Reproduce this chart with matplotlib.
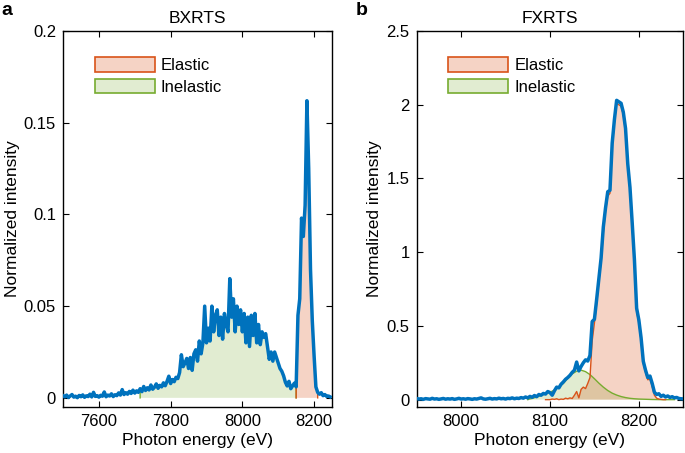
import numpy as np
import matplotlib
matplotlib.use("Agg")
import matplotlib.pyplot as plt
from matplotlib.patches import Patch
from matplotlib.ticker import FormatStrFormatter

plt.rcParams["font.family"] = ["Liberation Sans", "DejaVu Sans"]

BLUE = "#0072BD"
ORANGE = "#D95319"
GREEN = "#77AC30"

# ---------------- panel a: BXRTS ----------------
energy_a = np.arange(7500, 8250, 5)
intensity_a = [
    0.0012, 0.0005, 0.0015, 0.0002, 0.0010, 0.0018, 0.0004, 0.0009, 0.0001, 0.0013,
    0.0006, 0.0016, 0.0003, 0.0011, 0.0007, 0.0020, 0.0005, 0.0030, 0.0008, 0.0012,
    0.0004, 0.0014, 0.0009, 0.0032, 0.0006, 0.0015, 0.0010, 0.0022, 0.0007, 0.0017,
    0.0012, 0.0027, 0.0015, 0.0045, 0.0018, 0.0028, 0.0020, 0.0035, 0.0024, 0.0042,
    0.0026, 0.0038, 0.0030, 0.0050, 0.0034, 0.0062, 0.0040, 0.0055, 0.0043, 0.0070,
    0.0047, 0.0058, 0.0076, 0.0052, 0.0068, 0.0060, 0.0082, 0.0066, 0.0090, 0.0118,
    0.0078, 0.0100, 0.0088, 0.0112, 0.0105, 0.0138, 0.0235, 0.0170, 0.0190, 0.0215,
    0.0160, 0.0220, 0.0150, 0.0240, 0.0262, 0.0200, 0.0310, 0.0240, 0.0300, 0.0500,
    0.0300, 0.0380, 0.0310, 0.0500, 0.0360, 0.0450, 0.0480, 0.0340, 0.0440, 0.0320,
    0.0460, 0.0400, 0.0360, 0.0650, 0.0440, 0.0540, 0.0360, 0.0500, 0.0400, 0.0480,
    0.0360, 0.0460, 0.0300, 0.0440, 0.0280, 0.0450, 0.0340, 0.0460, 0.0300, 0.0400,
    0.0290, 0.0360, 0.0330, 0.0350, 0.0280, 0.0210, 0.0250, 0.0200, 0.0250, 0.0220,
    0.0190, 0.0160, 0.0145, 0.0120, 0.0085, 0.0065, 0.0090, 0.0050, 0.0065, 0.0080,
    0.0060, 0.0450, 0.0540, 0.0980, 0.0880, 0.1050, 0.1620, 0.1250, 0.0700, 0.0420,
    0.0230, 0.0060, 0.0030, 0.0020, 0.0028, 0.0012, 0.0018, 0.0008, 0.0010, 0.0005,
]
inelastic_range_a = (7715, 8150)
elastic_range_a = (8150, 8210)

# ---------------- panel b: FXRTS ----------------
energy_b = np.arange(7950, 8250.1, 2.5)
intensity_b = [
    0.008, 0.004, 0.006, 0.002, 0.007, 0.005, 0.003, 0.009, 0.004, 0.006,
    0.002, 0.005, 0.008, 0.003, 0.006, 0.004, 0.007, 0.002, 0.005, 0.009,
    0.004, 0.006, 0.003, 0.007, 0.005, 0.002, 0.006, 0.004, 0.008, 0.012,
    0.005, 0.003, 0.006, 0.009, 0.004, 0.007, 0.005, 0.010, 0.006, 0.008,
    0.004, 0.009, 0.007, 0.012, 0.006, 0.010, 0.008, 0.014,
    0.010, 0.018, 0.012, 0.022, 0.016, 0.028, 0.020, 0.035, 0.030, 0.042,
    0.038, 0.055, 0.048, 0.030, 0.060, 0.085, 0.080, 0.105, 0.120, 0.138,
    0.150, 0.165, 0.185, 0.200, 0.255, 0.195, 0.225, 0.250, 0.270, 0.262,
    0.300, 0.530,
    0.545, 0.680, 0.820, 0.960, 1.170, 1.300, 1.410, 1.420, 1.740, 1.900,
    2.030, 2.020, 2.010, 1.950, 1.840, 1.600, 1.440, 1.200, 0.950, 0.620,
    0.540, 0.420, 0.260, 0.200, 0.150, 0.160, 0.110, 0.050, 0.035, 0.040,
    0.022, 0.030,
    0.018, 0.025, 0.015, 0.020, 0.012, 0.015, 0.008, 0.006, 0.005,
]

elastic_energy_b = np.arange(8095, 8230.1, 2.5)
elastic_b = [
    0.0, 0.0, 0.0, 0.004, 0.002, 0.006, 0.0, 0.004, 0.002, 0.010,
    0.006, 0.012, 0.008, 0.030, 0.055, 0.012, 0.070, 0.085, 0.075, 0.110,
    0.150, 0.400,
    0.520, 0.650, 0.800, 0.940, 1.130, 1.280, 1.380, 1.400, 1.720, 1.880,
    2.010, 2.000, 1.990, 1.930, 1.820, 1.580, 1.420, 1.180, 0.930, 0.600,
    0.520, 0.400, 0.245, 0.185, 0.135, 0.140, 0.090, 0.030, 0.010, 0.004,
    0.002, 0.0, 0.0,
]

inelastic_energy_b = np.arange(8075, 8240.1, 5)
inelastic_b = [
    0.002, 0.008, 0.018, 0.028, 0.040, 0.050, 0.065, 0.085, 0.110, 0.145,
    0.175, 0.193, 0.200, 0.190, 0.170, 0.142, 0.112, 0.085, 0.062, 0.044,
    0.031, 0.021, 0.014, 0.009, 0.006, 0.004, 0.003, 0.002, 0.001, 0.0005,
    0.0, 0.0, 0.0, 0.0,
]


def shade(ax, x, y, color, alpha):
    x = np.asarray(x, float)
    y = np.asarray(y, float)
    px = np.concatenate([[x[0]], x, [x[-1]]])
    py = np.concatenate([[0], y, [0]])
    ax.fill(px, py, facecolor=color, alpha=alpha, edgecolor="none", zorder=1)
    ax.plot(px, py, color=color, lw=1.0, zorder=2)


def style_axes(ax, xlim, ylim, xticks, yticks, title):
    ax.set_xlim(*xlim)
    ax.set_ylim(*ylim)
    ax.set_xticks(xticks)
    ax.set_yticks(yticks)
    ax.yaxis.set_major_formatter(FormatStrFormatter("%g"))
    ax.tick_params(direction="in", top=True, right=True, length=4, width=0.8,
                   labelsize=12, pad=5)
    for s in ax.spines.values():
        s.set_linewidth(1.0)
    ax.set_xlabel("Photon energy (eV)", fontsize=12.5, labelpad=3)
    ax.set_ylabel("Normalized intensity", fontsize=12.5, labelpad=3)
    ax.set_title(title, fontsize=12.5, pad=6)
    legend_handles = [
        Patch(facecolor=(0.851, 0.325, 0.098, 0.25), edgecolor=ORANGE, lw=1.2, label="Elastic"),
        Patch(facecolor=(0.467, 0.675, 0.188, 0.22), edgecolor=GREEN, lw=1.2, label="Inelastic"),
    ]
    ax.legend(handles=legend_handles, loc="upper left", bbox_to_anchor=(0.119, 0.93),
              borderpad=0, borderaxespad=0, frameon=False, fontsize=12,
              handlelength=3.6, handleheight=0.95, handletextpad=0.35,
              labelspacing=0.35)


fig = plt.figure(figsize=(6.85, 4.53), dpi=100)

# panel a
ax1 = fig.add_axes([0.092, 0.1015, 0.3927, 0.830])
ea = np.asarray(energy_a)
ia = np.asarray(intensity_a)
m_in = (ea >= inelastic_range_a[0]) & (ea <= inelastic_range_a[1])
m_el = (ea >= elastic_range_a[0]) & (ea <= elastic_range_a[1])
shade(ax1, ea[m_in], ia[m_in], GREEN, 0.22)
shade(ax1, ea[m_el], ia[m_el], ORANGE, 0.25)
ax1.plot(ea, ia, color=BLUE, lw=2.5, zorder=3)
style_axes(ax1, (7500, 8250), (-0.005, 0.2), [7600, 7800, 8000, 8200],
           [0, 0.05, 0.1, 0.15, 0.2], "BXRTS")

# panel b
ax2 = fig.add_axes([0.6083, 0.1015, 0.3892, 0.830])
shade(ax2, inelastic_energy_b, inelastic_b, GREEN, 0.22)
shade(ax2, elastic_energy_b, elastic_b, ORANGE, 0.25)
ax2.plot(energy_b, intensity_b, color=BLUE, lw=2.5, zorder=3)
style_axes(ax2, (7950, 8250), (-0.05, 2.5), [8000, 8100, 8200],
           [0, 0.5, 1, 1.5, 2, 2.5], "FXRTS")

fig.text(0.002, 0.995, "a", fontsize=14, fontweight="bold", va="top", ha="left")
fig.text(0.520, 0.995, "b", fontsize=14, fontweight="bold", va="top", ha="left")

fig.savefig("out.png", dpi=100)
